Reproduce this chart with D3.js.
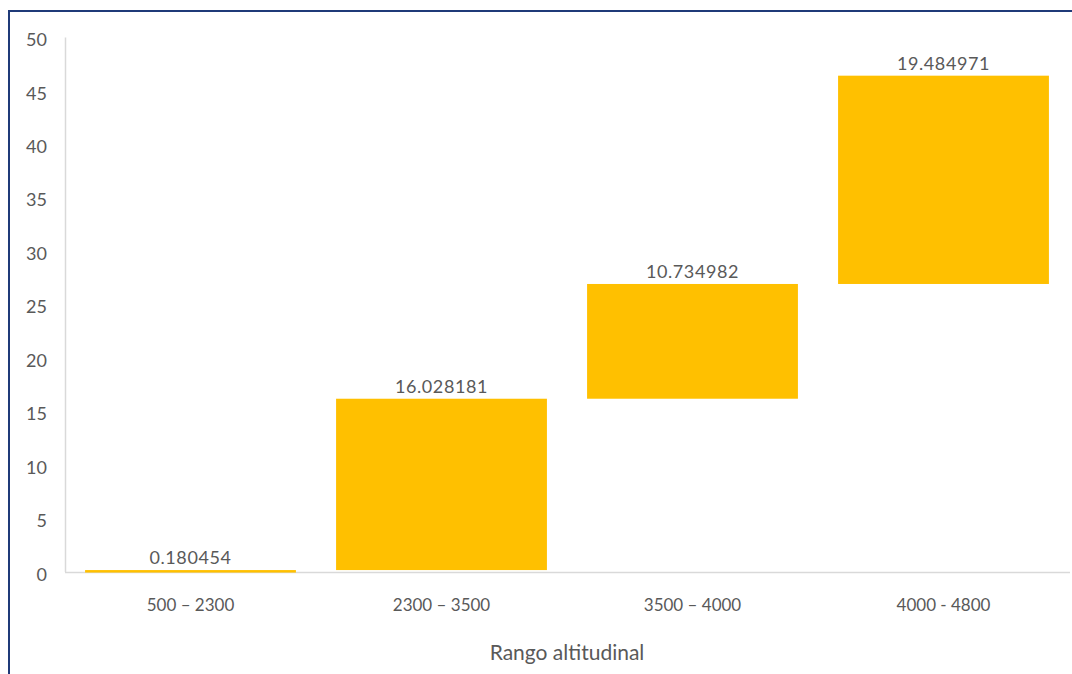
<!DOCTYPE html>
<html>
<head>
<meta charset="utf-8">
<script src="https://cdn.jsdelivr.net/npm/d3@7"></script>
<style>
  html, body { margin: 0; padding: 0; background: #ffffff; }
  svg { display: block; }
  text { font-family: Lato, "Open Sans", sans-serif; fill: #595959; }
</style>
</head>
<body>
<svg id="chart" width="1072" height="674"></svg>
<script>
// Data
const categories = ["500 – 2300", "2300 – 3500", "3500 – 4000", "4000 - 4800"];
const values = [0.180454, 16.028181, 10.734982, 19.484971];
const valueLabels = ["0.180454", "16.028181", "10.734982", "19.484971"];
const yTicks = [0, 5, 10, 15, 20, 25, 30, 35, 40, 45, 50];
const xTitle = "Rango altitudinal";

const svg = d3.select("#chart");
const W = 1072, H = 674;

// Border (dark navy frame, top & left visible)
svg.append("rect").attr("x", 9).attr("y", 11).attr("width", W + 10).attr("height", H + 10)
  .attr("fill", "#fff").attr("stroke", "#1f3a78").attr("stroke-width", 2);

// waterfall cumulative
let cum = 0;
const bars = values.map((v, i) => { const s = cum; cum += v; return { cat: categories[i], start: s, end: cum, label: valueLabels[i] }; });

const x = d3.scaleBand().domain(categories).range([65, 1069]).paddingInner(0.16).paddingOuter(0.08);
const y = d3.scaleLinear().domain([0, 50]).range([572, 37.5]);

// axes lines
svg.append("line").attr("x1", 65.5).attr("x2", 65.5).attr("y1", y(50)).attr("y2", y(0))
  .attr("stroke", "#d9d9d9").attr("stroke-width", 1.5);
svg.append("line").attr("x1", 65).attr("x2", 1070).attr("y1", y(0) + 0.5).attr("y2", y(0) + 0.5)
  .attr("stroke", "#d9d9d9").attr("stroke-width", 1.5);

// y tick labels via axis
const yAxis = d3.axisLeft(y).tickValues(yTicks).tickSize(0).tickPadding(0).tickFormat(d3.format("d"));
const gy = svg.append("g").attr("transform", "translate(47,0)").call(yAxis);
gy.select(".domain").remove();
gy.selectAll("text").attr("font-size", 18).attr("font-family", "Lato, sans-serif").attr("fill", "#595959").attr("dy", "0.45em");

// x tick labels
const xAxis = d3.axisBottom(x).tickSize(0).tickPadding(0);
const gx = svg.append("g").attr("transform", `translate(0,${y(0)})`).call(xAxis);
gx.select(".domain").remove();
gx.selectAll("text").attr("font-size", 17).attr("font-family", "Lato, sans-serif").attr("fill", "#595959")
  .attr("y", 33).attr("dy", "0.35em");

// bars
svg.append("g").selectAll("rect").data(bars).join("rect")
  .attr("x", d => x(d.cat))
  .attr("width", x.bandwidth())
  .attr("y", d => y(d.end))
  .attr("height", d => Math.max(2.5, y(d.start) - y(d.end)))
  .attr("fill", "#FFC000");

// value labels
svg.append("g").selectAll("text").data(bars).join("text")
  .attr("x", d => x(d.cat) + x.bandwidth() / 2)
  .attr("y", d => y(d.end) - 6)
  .attr("text-anchor", "middle")
  .attr("font-size", 18)
  .attr("letter-spacing", "0.6px")
  .text(d => d.label);

// axis title
svg.append("text").attr("x", 567).attr("y", 660).attr("text-anchor", "middle")
  .attr("font-size", 21).text(xTitle);
</script>
</body>
</html>
